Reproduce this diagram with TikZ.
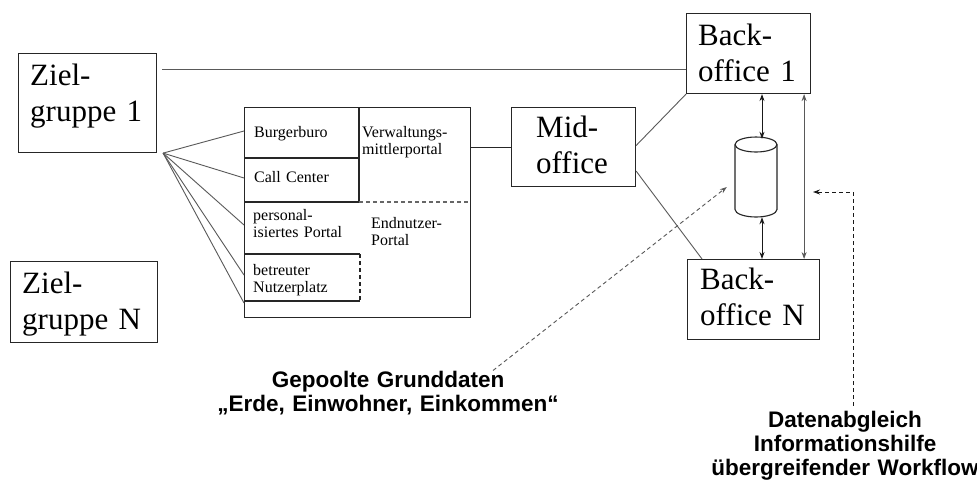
\documentclass[tikz,border=0pt]{standalone}
\usepackage{fontspec}
\setmainfont{Liberation Serif}
\newfontfamily\notefont{Liberation Sans}
\usetikzlibrary{arrows.meta}

\begin{document}
\begin{tikzpicture}[x=1pt, y=-1pt,
	box/.style 2 args={draw=black!85, line width=1.1pt, minimum width=#1, minimum height=#2, anchor=north west, inner sep=0pt},
	big/.style={font=\fontsize{31}{36.5}\selectfont, text width=130pt, align=left, anchor=base west, inner sep=0pt},
	small/.style={font=\fontsize{16}{17.5}\selectfont, text width=110pt, align=left, anchor=base west, inner sep=0pt},
	note/.style={font=\notefont\bfseries\fontsize{22.5}{24}\selectfont, text width=360pt, align=center, anchor=base, inner sep=0pt},
	conn/.style={draw=black!65, line width=0.9pt},
	part/.style={draw=black!85, line width=1.1pt},
	dsh/.style={dash pattern=on 4pt off 3pt},
	tip/.style={-{Stealth[length=7pt,width=5pt]}},
	tips/.style={{Stealth[length=7pt,width=5pt]}-{Stealth[length=7pt,width=5pt]}}]
	\useasboundingbox[fill=white] (0,0) rectangle (977,491);

	\node[box={138pt}{99pt}] (ziel1) at (18,53) {};
	\node[box={147pt}{81pt}] (zielN) at (10,261) {};
	\node[box={226pt}{210pt}] (portal) at (244,107) {};
	\node[box={124pt}{79pt}] (mid) at (511,107) {};
	\node[box={124pt}{80pt}] (bo1) at (686,13) {};
	\node[box={132pt}{80pt}] (boN) at (687,259) {};
	\node[minimum width=42pt, minimum height=80pt, inner sep=0pt] (db) at (756,177) {};

	\draw[part] (756,144.5) ellipse [x radius=21pt, y radius=7.5pt];
	\draw[part] (735,144.5) -- (735,209.5) .. controls (735,213.6) and (744.4,217) .. (756,217)
		.. controls (767.6,217) and (777,213.6) .. (777,209.5) -- (777,144.5);

	\node[big] (ziel1txt) at (30,85) {Ziel-\\gruppe 1};
	\node[big] (zielNtxt) at (22,293) {Ziel-\\gruppe N};
	\node[big] (midtxt) at (536,137) {Mid-\\office};
	\node[big] (bo1txt) at (698,45) {Back-\\office 1};
	\node[big] (boNtxt) at (700,289) {Back-\\office N};

	\draw[part] (359,107) -- (359,202);
	\draw[part] (244,158) -- (359,158);
	\draw[part] (244,202) -- (359,202);
	\draw[part, dsh, black!60] (359,202) -- (470,202);
	\draw[part] (244,254) -- (360,254);
	\draw[part, dsh] (360,254) -- (360,301);
	\draw[part] (244,301) -- (360,301);

	\node[small] (buero) at (254,137) {Burgerburo};
	\node[small] (call) at (254,182) {Call Center};
	\node[small] (perso) at (253,220) {personal-\\isiertes Portal};
	\node[small] (betreut) at (253,275) {betreuter\\Nutzerplatz};
	\node[small] (verw) at (362,137) {Verwaltungs-\\mittlerportal};
	\node[small] (endn) at (371,228) {Endnutzer-\\Portal};

	\coordinate (fan) at ([xshift=6pt]ziel1.south east);
	\foreach \y in {131,178,225,275,303}
		\draw[conn] (fan) -- (portal.west |- 0,\y);
	\draw[conn] ([xshift=5pt]ziel1.east |- 0,69) -- (bo1.west |- 0,69);
	\draw[conn, black!85] (portal.east |- mid.west) -- (mid.west);
	\draw[conn] ([yshift=1.5pt]mid.east) -- (bo1.south west);
	\draw[conn] ([yshift=-24pt]mid.east) -- ([xshift=15pt]boN.north west);
	\draw[conn, black!90, tips] ([xshift=6pt]db.north |- bo1.south) -- ([xshift=6pt, yshift=-2pt]db.north);
	\draw[conn, black!90, tips] ([xshift=6pt]db.south) -- ([xshift=6pt]db.south |- boN.north);
	\draw[conn, tips] ([xshift=-7pt]bo1.south east) -- ([xshift=-7pt]bo1.south east |- boN.north);

	\node[note] (pool) at (388,387) {Gepoolte Grunddaten\\„Erde, Einwohner, Einkommen“};
	\node[note, text width=280pt] (flow) at (845,427) {Datenabgleich\\Informationshilfe\\übergreifender Workflow};
	\coordinate (dbin) at ([shift={(-8,10)}]db.west);
	\coordinate (wfend) at (813,192);
	\draw[conn, dsh, tip] ([xshift=105pt]pool.north) -- (dbin);
	\draw[conn, black!90, dsh, tip] ([xshift=8pt, yshift=5pt]flow.north) |- (wfend);
\end{tikzpicture}
\end{document}
